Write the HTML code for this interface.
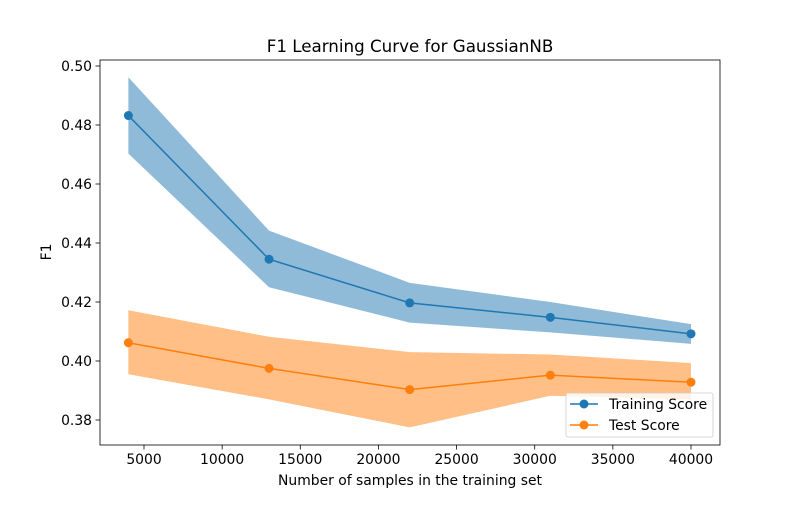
<!DOCTYPE html>
<html><head><meta charset="utf-8"><style>
body{margin:0;background:#fff}
svg text{font-family:"DejaVu Sans","Liberation Sans",sans-serif;fill:#000}
</style></head><body>
<svg id="chart" width="800" height="500" viewBox="0 0 800 500" xmlns="http://www.w3.org/2000/svg">
<rect width="800" height="500" fill="#fff"/>
<g id="plot"></g>
</svg>
<script>
const trainSizes=[4000,13000,22000,31000,40000];
const trainMean=[0.4832,0.4345,0.4197,0.4148,0.4092];
const trainUpper=[0.4962,0.4442,0.4265,0.4200,0.4125];
const trainLower=[0.4703,0.4250,0.4130,0.4097,0.4058];
const testMean=[0.4062,0.3975,0.3903,0.3952,0.3928];
const testUpper=[0.4172,0.4082,0.4030,0.4022,0.3993];
const testLower=[0.3955,0.3870,0.3775,0.3882,0.3870];
const xTicks=[5000,10000,15000,20000,25000,30000,35000,40000];
const yTicks=[0.38,0.40,0.42,0.44,0.46,0.48,0.50];

const L=100,R=720,T=60,B=445;
const xs=v=>144+(v-5000)*(691-144)/35000;
const ys=v=>420-(v-0.38)*(420-66)/0.12;
const NS="http://www.w3.org/2000/svg";
const g=document.getElementById('plot');
function mk(tag,attrs,parent){const e=document.createElementNS(NS,tag);for(const k in attrs)e.setAttribute(k,attrs[k]);(parent||g).appendChild(e);return e;}

function band(up,lo,color,name){
  let d='M'+trainSizes.map((x,i)=>xs(x)+','+ys(up[i])).join('L');
  d+='L'+trainSizes.map((x,i)=>xs(x)+','+ys(lo[i])).reverse().join('L')+'Z';
  const p=mk('path',{d:d,fill:color,'fill-opacity':0.5});
  
  
}
band(trainUpper,trainLower,'#1f77b4','train-band');
band(testUpper,testLower,'#ff7f0e','test-band');

function series(vals,color,name){
  const pl=mk('polyline',{points:trainSizes.map((x,i)=>xs(x)+','+ys(vals[i])).join(' '),fill:'none',stroke:color,'stroke-width':1.5});
  
  
  vals.forEach((v,i)=>{
    const c=mk('circle',{cx:xs(trainSizes[i]),cy:ys(v),r:4.5,fill:color});
    
    
  });
}
series(trainMean,'#1f77b4','training-score');
series(testMean,'#ff7f0e','test-score');

const frame=mk('rect',{x:L,y:T,width:R-L,height:B-T,fill:'none',stroke:'#000','stroke-width':0.8});



xTicks.forEach(v=>{
  const x=xs(v);
  mk('line',{x1:x,x2:x,y1:B,y2:B+4.5,stroke:'#000','stroke-width':0.8});
  const t=mk('text',{x:x,y:B+19,'text-anchor':'middle','font-size':13.9});
  t.textContent=v;
  
  
});
yTicks.forEach(v=>{
  const y=ys(v);
  mk('line',{x1:L-4.5,x2:L,y1:y,y2:y,stroke:'#000','stroke-width':0.8});
  const t=mk('text',{x:L-8,y:y+5,'text-anchor':'end','font-size':13.9});
  t.textContent=v.toFixed(2);
  
  
});

let t=mk('text',{x:410,y:52,'text-anchor':'middle','font-size':16.7});
t.textContent='F1 Learning Curve for GaussianNB';


t=mk('text',{x:410,y:485,'text-anchor':'middle','font-size':13.9});
t.textContent='Number of samples in the training set';


t=mk('text',{x:51,y:252,'text-anchor':'middle','font-size':13.9,transform:'rotate(-90 51 252)'});
t.textContent='F1';



const lg=mk('g',{});


mk('rect',{x:566,y:393,width:147,height:44,rx:2,fill:'#fff','fill-opacity':0.8,stroke:'#ccc','stroke-width':0.8},lg);
[['Training Score','#1f77b4',404],['Test Score','#ff7f0e',425]].forEach(([lab,c,y])=>{
  const e=mk('g',{},lg);
  
  
  mk('line',{x1:570,x2:598,y1:y,y2:y,stroke:c,'stroke-width':1.5},e);
  mk('circle',{cx:584,cy:y,r:4.5,fill:c},e);
  const tx=mk('text',{x:609,y:y+5,'font-size':13.9},e);
  tx.textContent=lab;
});
</script>
</body></html>
